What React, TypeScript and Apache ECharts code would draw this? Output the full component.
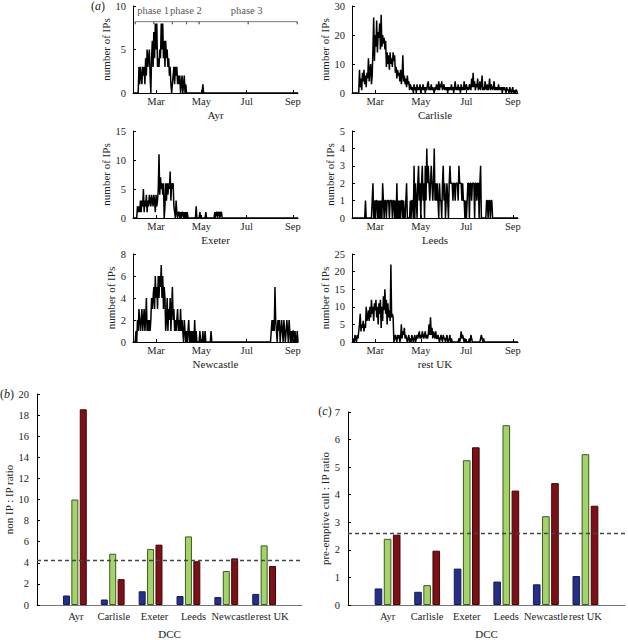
import React, { useEffect, useRef } from "react";
import * as echarts from "echarts";

const FONT = "Liberation Serif";
const TXT = "#222";

// ---------- panel (a): daily infected premises ----------
const dccNames = ["Ayr", "Carlisle", "Exeter", "Leeds", "Newcastle", "rest UK"];
const monthTicks = [59, 120, 181, 243]; // day of year
const monthLabels = ["Mar", "May", "Jul", "Sep"];
const X_MIN = 28;
const X_MAX = 250;
const yMaxes = [10, 30, 15, 5, 8, 25];
const yIntervals = [5, 10, 5, 1, 2, 5];

const ayrStart = 35;
const ayrValues = [
  0,
  3, 1, 3, 2, 1, 3, 2, 3, 1, 4, 2, 5, 3, 4, 5, 2,
  0,
  4, 6, 3, 7, 4, 8, 5, 8, 3, 4,
  3, 5, 4, 8, 5, 8, 4, 6,
  3, 6, 4, 5, 3, 4, 2, 3, 1,
  0,
  1, 2, 3, 1, 3, 2, 3, 1, 2, 1, 2, 0,
  1, 2, 0, 1, 2, 0, 1, 0, 0,
];
const ayrLateStart = 121;
const ayrLateValues = [0, 1, 0];

const carlisleStart = 37;
const carlisleValues = [
  0,
  8, 2, 5, 1, 7, 4, 8, 3, 6, 2, 7, 5, 12, 4, 8, 10, 3, 6,
  15, 26, 11, 20, 16, 25, 14, 21, 19, 24, 15, 27, 16, 20, 17,
  19, 15, 18, 9, 14, 10, 13, 8, 14, 10,
  12, 9, 14, 11, 13, 7, 9, 5, 8, 6,
  7, 4, 8, 3, 6, 13, 4, 6, 3, 5,
  2, 6, 3, 4, 1, 3, 2, 1, 2, 0,
  3, 1, 2, 0, 3, 1, 2, 1, 3, 0, 2, 1, 3, 1, 2, 0, 2, 1, 3, 4,
  1, 2, 1, 3, 1, 2, 1, 0, 2, 1, 3, 2, 1, 4, 1, 3, 2, 4, 1, 2,
  3, 1, 2, 1, 2, 0, 2, 1, 2, 1, 3, 1, 2, 0, 2, 4, 1, 2, 1, 3,
  1, 2, 0, 3, 1, 2, 1, 4, 1, 2, 3, 1, 2, 1, 3, 2, 1, 5, 2, 7,
  2, 4, 1, 3, 2, 5, 1, 2, 4, 1, 3, 6, 1, 2, 1, 4, 2, 1, 3, 1,
  2, 5, 1, 3, 2, 1, 2, 4, 1, 2, 1, 2, 1, 3, 1, 2, 1, 2, 0, 2,
  1, 2, 1, 0, 2, 1, 1, 0, 2, 1, 0, 1, 2, 0, 1, 0, 1, 1, 0,
];

const exeterStart = 33;
const exeterValues = [
  0, 2, 1, 2, 1, 3, 1, 3, 2, 5, 1, 3, 2,
  4, 1, 3, 2, 4, 3, 2, 4, 3, 2, 4, 3, 1, 4, 2,
  3, 5, 11, 4, 7, 5, 6, 4, 6, 0,
  2, 6, 3, 6, 4, 6, 5, 8, 3, 6, 5, 6, 2, 1, 0,
  3,
  1, 0, 1, 1, 0, 1, 0, 1, 1, 0, 1, 0, 1, 0,
  1, 0, 0, 0, 0, 0, 0, 0, 0, 0, 0, 0,
  2,
  0, 0, 0, 0,
  1,
  0, 0, 0, 0, 0, 0, 0,
  1,
  0, 0, 0, 0, 0, 0, 0, 0, 0, 0, 0,
  1, 0, 1, 1, 0, 1, 1, 0, 1, 1, 0, 0,
];

const leedsStart = 45;
const leedsValues = [
  0, 1, 0, 0, 0, 0, 0, 0, 0,
  0, 1, 2, 0, 1, 0, 1, 1, 0,
  1, 0, 1, 0, 1, 0, 2, 1, 0, 1, 1, 0, 1,
  1, 1, 0, 1, 1, 1, 0, 1, 1, 0, 1, 0,
  2,
  0, 1, 0, 1, 0, 1, 1, 0, 1, 0, 0, 1,
  2,
  0, 0, 0, 0, 1,
  0, 1, 1, 0, 3, 0, 2, 1, 0, 2, 3, 1, 2, 0,
  2, 3, 1, 2, 0, 3, 1, 4, 2, 3, 2, 1, 2, 3, 2,
  1, 2, 4, 1, 2, 1, 2, 1, 0, 2, 1, 1, 0, 2, 3,
  1, 2, 0, 1, 2, 1, 0, 2, 3, 2, 2, 2, 1, 2, 2,
  1, 2, 2, 2, 1, 3, 2, 2, 2, 1, 2, 1, 1, 0, 1,
  0, 1, 2, 2, 0, 2, 2, 1, 2, 2, 2, 0, 2, 2, 1, 2, 2, 0, 2, 3,
  0, 0, 0, 0, 0, 0, 0, 1, 1, 0, 1, 1, 0, 1, 1, 0,
];

const newcastleStart = 31;
const newcastleValues = [
  0, 1, 0, 2, 1, 3, 2, 1, 2, 3, 1, 2, 3, 1, 2,
  4,
  1, 2, 1, 2, 1, 2, 4,
  3, 4, 5, 3, 6, 4, 5, 3, 6, 4, 6, 5, 7,
  4, 6, 3, 5, 4, 1,
  2, 4, 1, 3, 2, 4, 1, 3, 5, 2, 3, 1, 2,
  1, 2, 3, 1, 2, 1, 3, 1, 2, 1, 0, 2, 1, 0, 1,
  0, 1, 2, 0, 1, 0, 1, 0, 1, 0, 2, 0, 1, 0, 0,
  0, 0, 1, 0, 0, 0, 1, 0, 0, 1, 0, 0, 0, 0, 0, 0, 0, 1, 0, 0, 0, 0,
];
const newcastleLateStart = 213;
const newcastleLateValues = [
  0, 1, 2, 1, 2, 1, 5, 2, 1, 0,
  2, 1, 2, 0, 1, 2, 1, 0, 2, 1,
  0, 1, 2, 1, 0, 2, 1, 0, 1, 0,
  1, 1, 0, 1, 0, 0, 1,
];

const restStart = 29;
const restValues = [
  0, 1, 0, 2, 1, 0, 2, 1, 3, 5,
  8,
  3, 5, 4, 6, 3, 5, 4, 10, 6,
  7, 9, 6, 10, 7, 12, 8, 10, 6, 11, 9, 12, 7, 10,
  5, 11, 8, 12, 4, 10, 6, 13, 9, 15,
  8, 12, 5, 11, 7, 9, 6,
  22,
  7, 8, 7,
  0,
  1, 2, 1, 0, 2, 1, 2, 0, 1,
  5,
  1, 3, 2, 4, 1, 2, 1,
  0, 1, 2, 0, 1, 0, 2, 1, 0, 1, 2, 0, 1, 2,
  1, 2, 3, 1, 2, 1, 3, 2, 1, 2, 3, 1, 2, 1, 2,
  5, 2, 7,
  2, 4, 1, 3, 2, 1, 3, 1,
  1, 2, 1, 0, 1, 2, 1, 0, 2, 1, 1, 0, 1, 2, 0, 0, 1,
  2,
  0, 1, 0, 0, 0, 0, 0, 0, 0, 0, 0, 1, 0, 1,
  3,
  1, 2, 1, 0, 1, 0, 0, 0, 0, 0, 1, 0,
  2,
  1, 0, 0, 0, 0, 0, 0, 0, 0, 0, 0, 0, 1,
  2,
  1, 0, 1, 0,
];

const timeSeriesParts: [number, number[]][][] = [
  [[ayrStart, ayrValues], [ayrLateStart, ayrLateValues]],
  [[carlisleStart, carlisleValues]],
  [[exeterStart, exeterValues]],
  [[leedsStart, leedsValues]],
  [[newcastleStart, newcastleValues], [newcastleLateStart, newcastleLateValues]],
  [[restStart, restValues]],
];

// phase bracket (Ayr panel)
const phaseNames = ["phase 1", "phase 2", "phase 3"];
const phaseLabelDays = [55, 99, 181];
const phaseTickDays = [31, 56, 81, 100, 117, 183, 249];
const phaseBracketLevel = 8.2;
const phaseLabelLevel = 9.45;

// ---------- panels (b) and (c) ----------
const ratioSeriesNames = ["phase 1", "phase 2", "phase 3"];
const nonIpBlue = [0.9, 0.52, 1.3, 0.85, 0.75, 1.05];
const nonIpGreen = [10.0, 4.86, 5.3, 6.5, 3.22, 5.65];
const nonIpRed = [18.55, 2.45, 5.72, 4.15, 4.42, 3.7];
const nonIpMean = 4.24;

const preBlue = [0.6, 0.48, 1.32, 0.85, 0.75, 1.05];
const preGreen = [2.4, 0.72, 5.25, 6.52, 3.22, 5.47];
const preRed = [2.55, 1.97, 5.72, 4.15, 4.42, 3.6];
const preMean = 2.62;

const barColors = ["#262f88", "#a4d36c", "#7b1116"];
const barBorders = ["#141a55", "#3c5a1e", "#420507"];

function toPoints(start: number, vals: number[]) {
  return vals.map((v, i) => [start + i, v]);
}

export default function App() {
  const ref = useRef<HTMLDivElement>(null);

  useEffect(() => {
    if (!ref.current) return;
    const chart = echarts.init(ref.current, null, { renderer: "svg" });

    const timeGrids = [
      { left: 133, top: 6, width: 165, height: 87 },
      { left: 352, top: 6, width: 166, height: 87 },
      { left: 133, top: 131, width: 165, height: 87 },
      { left: 352, top: 131, width: 166, height: 87 },
      { left: 133, top: 254, width: 165, height: 88 },
      { left: 352, top: 254, width: 166, height: 88 },
    ];
    const barGrids = [
      { left: 37, top: 394, width: 265, height: 214 },
      { left: 348, top: 412, width: 279, height: 196 },
    ];
    // label shift (px, rightwards) for panel (b) category labels
    const bLabelShift = [1, 1, 4, 5, 7, 8];

    const axisLine = { show: true, lineStyle: { color: "#000", width: 1 } };
    const labelStyle = { fontFamily: FONT, fontSize: 10.5, color: TXT };
    const nameStyle = { fontFamily: FONT, fontSize: 11, color: TXT };

    const xAxes: any[] = [];
    const yAxes: any[] = [];
    const series: any[] = [];

    dccNames.forEach((name, i) => {
      xAxes.push({
        gridIndex: i,
        type: "value",
        min: X_MIN,
        max: X_MAX,
        axisLine,
        axisTick: { show: true, inside: true, length: 3, customValues: monthTicks, lineStyle: { color: "#000" } },
        axisLabel: {
          ...labelStyle,
          margin: 3,
          customValues: monthTicks,
          formatter: (v: number) => {
            const k = monthTicks.indexOf(v);
            return k >= 0 ? monthLabels[k] : "";
          },
        },
        splitLine: { show: false },
        name,
        nameLocation: "middle",
        nameGap: 16,
        nameTextStyle: nameStyle,
      });
      yAxes.push({
        gridIndex: i,
        type: "value",
        min: 0,
        max: yMaxes[i],
        interval: yIntervals[i],
        axisLine,
        axisTick: { show: true, inside: true, length: 3, lineStyle: { color: "#000" } },
        axisLabel: { ...labelStyle, margin: 7 },
        splitLine: { show: false },
        name: "number of IPs",
        nameLocation: "middle",
        nameRotate: 90,
        nameGap: 15,
        nameTextStyle: nameStyle,
      });
      const pts: number[][] = [[X_MIN, 0]];
      timeSeriesParts[i].forEach(([s, vals]) => pts.push(...toPoints(s, vals)));
      pts.push([X_MAX, 0]);
      series.push({
        type: "line",
        xAxisIndex: i,
        yAxisIndex: i,
        data: pts,
        symbol: "none",
        showSymbol: false,
        lineStyle: { color: "#000", width: 1.5 },
        silent: true,
      });
    });

    // phase bracket on Ayr panel
    const bracketPts: number[][] = [];
    phaseTickDays.forEach((d) => {
      bracketPts.push([d, phaseBracketLevel], [d, phaseBracketLevel - 0.3], [d, phaseBracketLevel]);
    });
    series.push({
      type: "line",
      xAxisIndex: 0,
      yAxisIndex: 0,
      data: bracketPts,
      symbol: "none",
      lineStyle: { color: "#555", width: 0.8 },
      silent: true,
    });
    series.push({
      type: "scatter",
      xAxisIndex: 0,
      yAxisIndex: 0,
      symbolSize: 0,
      data: phaseLabelDays.map((d) => [d, phaseLabelLevel]),
      label: {
        show: true,
        position: "inside",
        fontFamily: FONT,
        fontSize: 10.5,
        color: TXT,
        formatter: (p: any) => phaseNames[p.dataIndex],
      },
      silent: true,
    });

    // bar panels
    const barSets = [
      { vals: [nonIpBlue, nonIpGreen, nonIpRed], mean: nonIpMean, max: 20, interval: 2, yName: "non IP : IP ratio", bw: 7, gap: 14, shift: bLabelShift },
      { vals: [preBlue, preGreen, preRed], mean: preMean, max: 7, interval: 1, yName: "pre-emptive cull : IP ratio", bw: 7.6, gap: 15, shift: null as number[] | null },
    ];
    barSets.forEach((set, j) => {
      const gi = 6 + j;
      const cats = [
        "",
        ...dccNames.map((n, i) =>
          set.shift ? { value: n, textStyle: { padding: [0, 0, 0, 2 * set.shift[i]] } } : n
        ),
        "",
      ];
      xAxes.push({
        gridIndex: gi,
        type: "category",
        data: cats,
        boundaryGap: false,
        axisLine: { show: true, lineStyle: { color: "#777", width: 1 } },
        axisTick: { show: false },
        axisLabel: { ...labelStyle, margin: 6, interval: 0 },
        splitLine: { show: false },
        name: "DCC",
        nameLocation: "middle",
        nameGap: 23,
        nameTextStyle: nameStyle,
      });
      yAxes.push({
        gridIndex: gi,
        type: "value",
        min: 0,
        max: set.max,
        interval: set.interval,
        axisLine: { show: true, lineStyle: { color: "#000", width: 1 } },
        axisTick: { show: true, inside: true, length: 3, lineStyle: { color: "#000" } },
        axisLabel: { ...labelStyle, margin: 8 },
        splitLine: { show: false },
        name: set.yName,
        nameLocation: "middle",
        nameRotate: 90,
        nameGap: set.gap,
        nameTextStyle: nameStyle,
      });
      set.vals.forEach((vals, k) => {
        series.push({
          type: "bar",
          name: ratioSeriesNames[k],
          xAxisIndex: xAxes.length - 1,
          yAxisIndex: yAxes.length - 1,
          data: [null, ...vals, null],
          barWidth: set.bw,
          barGap: "20%",
          itemStyle: { color: barColors[k], borderColor: barBorders[k], borderWidth: 1 },
          silent: true,
          markLine:
            k === 2
              ? {
                  symbol: "none",
                  silent: true,
                  label: { show: false },
                  lineStyle: { color: "#444", width: 1.3, type: [4, 3] },
                  data: [{ yAxis: set.mean }],
                  z: 10,
                }
              : undefined,
        });
      });
    });

    const panelLabel = (letter: string, x: number, y: number) => ({
      type: "text",
      x,
      y,
      style: {
        text: `{n|(}{i|${letter}}{n|)}`,
        rich: {
          n: { fontFamily: FONT, fontSize: 12, fill: TXT, fontStyle: "normal" },
          i: { fontFamily: FONT, fontSize: 12, fill: TXT, fontStyle: "italic" },
        },
        align: "center",
        verticalAlign: "middle",
      },
    });

    chart.setOption({
      animation: false,
      backgroundColor: "#fff",
      textStyle: { fontFamily: FONT },
      grid: [...timeGrids, ...barGrids],
      xAxis: xAxes,
      yAxis: yAxes,
      series,
      graphic: [panelLabel("a", 98, 6), panelLabel("b", 7, 394), panelLabel("c", 325, 411)],
    });

    return () => chart.dispose();
  }, []);

  return (
    <div
      ref={ref}
      style={{ position: "fixed", left: 0, top: 0, width: 628, height: 640, background: "#fff" }}
    />
  );
}
